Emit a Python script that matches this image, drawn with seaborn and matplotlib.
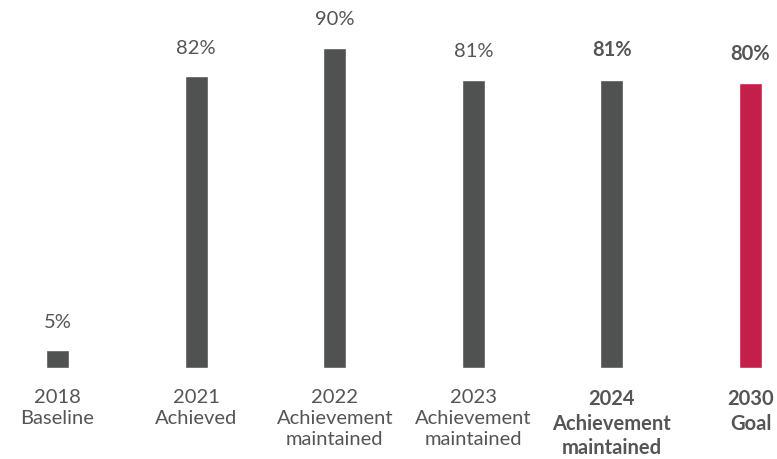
import matplotlib
matplotlib.use("Agg")
import matplotlib.pyplot as plt
import seaborn as sns
import pandas as pd

years = ["2018", "2021", "2022", "2023", "2024", "2030"]
captions = ["Baseline", "Achieved", "Achievement\nmaintained",
            "Achievement\nmaintained", "Achievement\nmaintained", "Goal"]
values = [5, 82, 90, 81, 81, 80]
highlight = [False, False, False, False, True, True]
bar_colors = ["#505251", "#505251", "#505251", "#505251", "#505251", "#C41E4A"]

TEXT = "#555555"

sns.set_theme(style="white")
plt.rcParams["font.family"] = ["Lato", "DejaVu Sans"]

df = pd.DataFrame({"year": years, "value": values})

fig = plt.figure(figsize=(7.77, 4.59), dpi=100)
ax = fig.add_axes([0, 0.1983, 1, 0.8017])

sns.barplot(data=df, x="year", y="value", hue="year", palette=bar_colors,
            width=0.166, legend=False, ax=ax, saturation=1)

ax.set_xlim(-0.415, 5.191)
ax.set_ylim(0, 103.4)
ax.set_xlabel("")
ax.set_ylabel("")
ax.set_yticks([])
sns.despine(ax=ax, left=True, bottom=True)

for i, (v, bold) in enumerate(zip(values, highlight)):
    ax.annotate(f"{v}%", (i, v), xytext=(0, 14), textcoords="offset points",
                ha="center", va="bottom", fontsize=14.5, color=TEXT,
                fontweight="bold" if bold else "normal")

ax.set_xticks(range(len(years)))
ax.set_xticklabels([f"{y}\n{c}" for y, c in zip(years, captions)],
                   fontsize=14.5, color=TEXT, linespacing=1.3)
ax.tick_params(axis="x", length=0, pad=15)
for lbl, bold in zip(ax.get_xticklabels(), highlight):
    lbl.set_fontweight("bold" if bold else "normal")

fig.savefig("out.png", dpi=100)
